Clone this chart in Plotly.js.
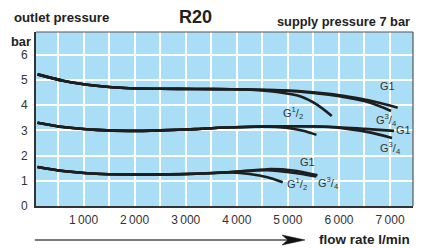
<!DOCTYPE html>
<html>
<head>
<meta charset="utf-8">
<script src="https://cdn.plot.ly/plotly-3.0.1.min.js"></script>
<style>html,body{margin:0;padding:0;background:#fff;}#chart{width:422px;height:248px;}</style>
</head>
<body>
<div id="chart"></div>
<script>
// ---- data (flow rate l/min, outlet pressure bar) ----
const topG1Flow  = [100, 600, 1250, 1900, 2500, 3200, 3900, 4600, 5200, 5800, 6200, 6600, 7150];
const topG1P     = [5.22, 4.97, 4.77, 4.67, 4.65, 4.64, 4.63, 4.6, 4.56, 4.45, 4.33, 4.18, 3.9];
const topG34Flow = [100, 600, 1250, 1900, 2500, 3200, 3900, 4600, 5200, 5800, 6200, 6600, 7020];
const topG34P    = [5.22, 4.97, 4.77, 4.67, 4.65, 4.64, 4.63, 4.6, 4.54, 4.41, 4.28, 4.1, 3.77];
const topG12Flow = [100, 600, 1250, 1900, 2500, 3200, 3900, 4350, 4790, 5240, 5570, 5860];
const topG12P    = [5.22, 4.97, 4.77, 4.67, 4.65, 4.64, 4.63, 4.6, 4.52, 4.35, 4.02, 3.57];

const midG1Flow  = [100, 600, 1250, 1900, 2500, 3200, 3900, 4600, 5200, 5800, 6500, 7080];
const midG1P     = [3.3, 3.13, 3.02, 2.98, 3.0, 3.05, 3.12, 3.15, 3.16, 3.14, 3.06, 2.98];
const midG34Flow = [100, 600, 1250, 1900, 2500, 3200, 3900, 4600, 5200, 5800, 6200, 6600, 7040];
const midG34P    = [3.3, 3.13, 3.02, 2.98, 3.0, 3.05, 3.12, 3.15, 3.16, 3.13, 3.05, 2.92, 2.7];
const midG12Flow = [100, 600, 1250, 1900, 2500, 3200, 3900, 4500, 5000, 5300, 5560];
const midG12P    = [3.3, 3.13, 3.02, 2.98, 3.0, 3.05, 3.12, 3.15, 3.09, 2.98, 2.82];

const botG1Flow  = [100, 600, 1250, 1900, 2500, 3200, 3900, 4600, 5100, 5580];
const botG1P     = [1.55, 1.39, 1.28, 1.25, 1.25, 1.28, 1.35, 1.46, 1.41, 1.22];
const botG34Flow = [100, 600, 1250, 1900, 2500, 3200, 3900, 4600, 5100, 5560];
const botG34P    = [1.55, 1.39, 1.28, 1.25, 1.25, 1.28, 1.35, 1.42, 1.32, 1.17];
const botG12Flow = [100, 600, 1250, 1900, 2500, 3200, 3900, 4250, 4600, 4900];
const botG12P    = [1.55, 1.39, 1.28, 1.25, 1.25, 1.28, 1.33, 1.27, 1.14, 0.94];

const xTickVals = [1000, 2000, 3000, 4000, 5000, 6000, 7000];
const xTickText = ["1\u2009000", "2\u2009000", "3\u2009000", "4\u2009000", "5\u2009000", "6\u2009000", "7\u2009000"];
const yTickVals = [0, 1, 2, 3, 4, 5, 6];

// curve labels: [flow, pressure, text]
const curveLabels = [
  [6960, 4.77, "G1"],
  [5100, 3.70, "G<sup>1</sup>/<sub>2</sub>"],
  [6940, 3.43, "G<sup>3</sup>/<sub>4</sub>"],
  [7270, 3.0, "G1"],
  [7000, 2.30, "G<sup>3</sup>/<sub>4</sub>"],
  [5375, 1.75, "G1"],
  [5180, 0.87, "G<sup>1</sup>/<sub>2</sub>"],
  [5790, 0.91, "G<sup>3</sup>/<sub>4</sub>"]
];

const curves = [
  [topG1Flow, topG1P], [topG34Flow, topG34P], [topG12Flow, topG12P],
  [midG1Flow, midG1P], [midG34Flow, midG34P], [midG12Flow, midG12P],
  [botG1Flow, botG1P], [botG34Flow, botG34P], [botG12Flow, botG12P]
];

const traces = curves.map(c => ({
  x: c[0], y: c[1], type: 'scatter', mode: 'lines',
  line: {color: '#1e1e1e', width: 2.6, shape: 'spline', smoothing: 0.8},
  hoverinfo: 'skip', showlegend: false
}));

const FONT = 'Liberation Sans, Arial, Helvetica, sans-serif';

const annotations = curveLabels.map(l => ({
  x: l[0], y: l[1], xref: 'x', yref: 'y', text: l[2], showarrow: false,
  font: {family: FONT, size: 11, color: '#333'}
}));

annotations.push(
  {xref: 'paper', yref: 'paper', x: -0.064, y: 1.086, xanchor: 'left', yanchor: 'middle',
   text: '<b>outlet pressure</b>', showarrow: false, font: {family: FONT, size: 13.2, color: '#222'}},
  {xref: 'paper', yref: 'paper', x: -0.009, y: 0.945, xanchor: 'right', yanchor: 'middle',
   text: '<b>bar</b>', showarrow: false, font: {family: FONT, size: 12.8, color: '#222'}},
  {xref: 'paper', yref: 'paper', x: 0.422, y: 1.086, xanchor: 'center', yanchor: 'middle',
   text: '<b>R20</b>', showarrow: false, font: {family: FONT, size: 18, color: '#222'}},
  {xref: 'paper', yref: 'paper', x: 0.997, y: 1.063, xanchor: 'right', yanchor: 'middle',
   text: '<b>supply pressure 7 bar</b>', showarrow: false, font: {family: FONT, size: 12.8, color: '#222'}},
  {xref: 'paper', yref: 'paper', x: 0.997, y: -0.195, xanchor: 'right', yanchor: 'middle',
   text: '<b>flow rate l/min</b>', showarrow: false, font: {family: FONT, size: 13.5, color: '#222'}}
);

const shapes = [
  // top and right frame
  {type: 'line', xref: 'paper', yref: 'paper', x0: 0, x1: 1, y0: 1, y1: 1, line: {color: '#555', width: 1.2}},
  {type: 'line', xref: 'paper', yref: 'paper', x0: 1, x1: 1, y0: 0, y1: 1, line: {color: '#555', width: 1.2}},
  // arrow shaft
  {type: 'line', xref: 'paper', yref: 'paper', x0: -0.003, x1: 0.668, y0: -0.1954, y1: -0.1954, line: {color: '#7a7a7a', width: 2}},
  // arrow head
  {type: 'path', xref: 'paper', yref: 'paper',
   path: 'M 0.7135,-0.1954 L 0.6525,-0.1667 L 0.668,-0.1954 L 0.6525,-0.2241 Z',
   fillcolor: '#111', line: {color: '#111', width: 0.5}}
];

const layout = {
  width: 422, height: 248,
  margin: {l: 36, r: 9, t: 32, b: 42},
  paper_bgcolor: '#ffffff', plot_bgcolor: '#a9def6',
  font: {family: FONT, size: 11, color: '#333'},
  xaxis: {
    range: [70, 7450], tickvals: xTickVals, ticktext: xTickText,
    showgrid: true, gridcolor: '#ffffff', gridwidth: 2,
    minor: {dtick: 500, tick0: 0, showgrid: true, gridcolor: '#ffffff', gridwidth: 2, ticks: ''},
    showline: true, linecolor: '#333', linewidth: 2, zeroline: false, ticks: '',
    ticklabelstandoff: 2, tickfont: {family: FONT, size: 12, color: '#333'}, fixedrange: true
  },
  yaxis: {
    range: [0, 6.9], tickvals: yTickVals,
    showgrid: true, gridcolor: '#ffffff', gridwidth: 2,
    showline: true, linecolor: '#333', linewidth: 2, zeroline: false, ticks: '',
    ticklabelstandoff: 4, tickfont: {family: FONT, size: 12, color: '#333'}, fixedrange: true
  },
  annotations: annotations,
  shapes: shapes,
  showlegend: false
};

Plotly.newPlot('chart', traces, layout, {displayModeBar: false, staticPlot: true});
</script>
</body>
</html>
